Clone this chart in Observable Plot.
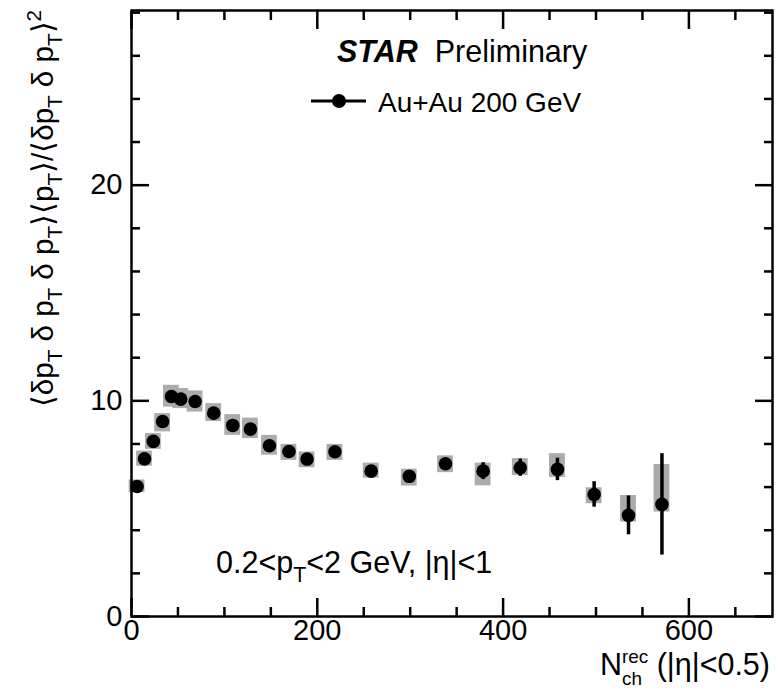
<!DOCTYPE html>
<html><head><meta charset="utf-8">
<script src="https://cdn.jsdelivr.net/npm/d3@7"></script>
<script src="https://cdn.jsdelivr.net/npm/@observablehq/plot@0.6"></script>
<style>
body{margin:0;background:#fff}
svg{font-family:"Liberation Sans",Arial,Helvetica,sans-serif}
</style>
</head><body><div id="chart"></div>
<script>
// ---- data ----
const nch     = [6, 14, 23.5, 33.5, 43, 53, 68.5, 88.5, 109, 128, 148.5, 169.5, 189, 219, 258, 299, 338, 378.5, 418.5, 458.5, 498, 535, 571];
const gamma   = [6.03, 7.31, 8.12, 9.04, 10.2, 10.08, 9.97, 9.43, 8.86, 8.69, 7.92, 7.65, 7.30, 7.64, 6.74, 6.50, 7.08, 6.74, 6.90, 6.82, 5.66, 4.69, 5.20];
const statErr = [0.08, 0.08, 0.08, 0.08, 0.08, 0.08, 0.08, 0.09, 0.1, 0.1, 0.12, 0.13, 0.14, 0.15, 0.18, 0.2, 0.25, 0.39, 0.4, 0.52, 0.59, 0.9, 2.35];
const sysLo   = [5.75, 6.97, 7.75, 8.56, 9.71, 9.64, 9.48, 9.04, 8.40, 8.25, 7.48, 7.24, 6.90, 7.24, 6.42, 6.05, 6.67, 6.06, 6.54, 6.45, 5.23, 4.38, 4.84];
const sysHi   = [6.33, 7.67, 8.49, 9.41, 10.72, 10.57, 10.46, 9.87, 9.36, 9.20, 8.40, 7.98, 7.63, 7.98, 7.11, 6.83, 7.45, 7.11, 7.32, 7.55, 5.97, 5.61, 7.05];
const xMajor = [0, 200, 400, 600];
const xMinor = [50, 100, 150, 250, 300, 350, 450, 500, 550, 650];
const yMajor = [0, 10, 20];
const yMinor = [2, 4, 6, 8, 12, 14, 16, 18, 22, 24, 26, 28];

const data = nch.map((x, i) => ({x, y: gamma[i], stat: statErr[i], lo: sysLo[i], hi: sysHi[i]}));
const boxHalf = 8.5;

const tickOpts = {tickFormat: () => "", label: null, strokeWidth: 2.5};
const plot = Plot.plot({
  width: 778, height: 690,
  marginLeft: 131, marginRight: 6, marginTop: 10, marginBottom: 74,
  x: {domain: [0, 690]},
  y: {domain: [0, 28.1]},
  style: {fontFamily: '"Liberation Sans",Arial,sans-serif', color: "black", background: "white"},
  marks: [
    Plot.rect(data, {x1: d => d.x - boxHalf, x2: d => d.x + boxHalf, y1: "lo", y2: "hi", fill: "#ababab"}),
    Plot.ruleX(data, {x: "x", y1: d => d.y - d.stat, y2: d => d.y + d.stat, stroke: "black", strokeWidth: 3.5}),
    Plot.dot(data, {x: "x", y: "y", r: 6.8, fill: "black", stroke: "none"}),
    Plot.frame({stroke: "black", strokeWidth: 2.5}),
    Plot.axisX({anchor: "bottom", ticks: xMajor, tickSize: -18, ...tickOpts}),
    Plot.axisX({anchor: "bottom", ticks: xMinor, tickSize: -9, ...tickOpts}),
    Plot.axisX({anchor: "top", ticks: xMajor, tickSize: -18, ...tickOpts}),
    Plot.axisX({anchor: "top", ticks: xMinor, tickSize: -9, ...tickOpts}),
    Plot.axisY({anchor: "left", ticks: yMajor, tickSize: -18, ...tickOpts}),
    Plot.axisY({anchor: "left", ticks: yMinor, tickSize: -9, ...tickOpts}),
    Plot.axisY({anchor: "right", ticks: yMajor, tickSize: -18, ...tickOpts}),
    Plot.axisY({anchor: "right", ticks: yMinor, tickSize: -9, ...tickOpts}),
    Plot.axisX({anchor: "bottom", ticks: xMajor, tickSize: 0, tickPadding: 3, fontSize: 29, label: null}),
    Plot.axisY({anchor: "left", ticks: yMajor, tickSize: 0, tickPadding: 9, fontSize: 29, label: null})
  ]
});
document.getElementById("chart").appendChild(plot);

// ---- rich text (sub/superscripts) ----
const svg = d3.select(plot);
function rich(x, y, parts, {anchor = "start", size = 28, transform = null, subShift = 0.3, supShift = 0.42, small = 0.7} = {}) {
  const t = svg.append("text").attr("x", x).attr("y", y)
    .attr("text-anchor", anchor).attr("font-size", size).attr("fill", "black");
  if (transform) t.attr("transform", transform).attr("x", 0).attr("y", 0);
  let shift = 0;
  for (const p of parts) {
    const [str, kind, extra] = p;
    const ts = t.append("tspan").text(str);
    let target = 0, fs = size, weight = null, style = null;
    if (kind === "sub") { target = size * subShift; fs = size * small; }
    if (kind === "sup") { target = -size * supShift; fs = size * small; }
    if (kind === "bi") { weight = "bold"; style = "italic"; }
    ts.attr("dy", target - shift).attr("font-size", fs);
    if (extra) ts.attr("dx", extra);
    if (weight) ts.attr("font-weight", weight);
    if (style) ts.attr("font-style", style);
    shift = target;
  }
  return t;
}

// STAR Preliminary
rich(337, 62, [["STAR", "bi"], ["  Preliminary"]], {size: 30.5});
// legend
svg.append("line").attr("x1", 311).attr("x2", 366).attr("y1", 101).attr("y2", 101)
  .attr("stroke", "black").attr("stroke-width", 3);
svg.append("circle").attr("cx", 339).attr("cy", 101).attr("r", 7).attr("fill", "black");
rich(378, 112, [["Au+Au 200 GeV"]], {size: 28});
// kinematic annotation
rich(216, 573, [["0.2<p"], ["T", "sub"], ["<2 GeV, |η|<1"]], {size: 30.5});
// x title: "rec" stacked above "ch"
rich(770, 675, [["N"], ["ch", "sub"], ["rec", "sup", -20], [" (|η|<0.5)"]],
  {anchor: "end", size: 30.5, subShift: 0.33, supShift: 0.39, small: 0.62});
// y title
rich(0, 0, [["⟨δp"], ["T", "sub"], [" δ p"], ["T", "sub"], [" δ p"], ["T", "sub"], ["⟩⟨p"], ["T", "sub"], ["⟩/⟨δp"], ["T", "sub"], [" δ p"], ["T", "sub"], ["⟩"], ["2", "sup"]],
  {anchor: "end", size: 29.5, transform: "translate(53,10) rotate(-90)"});
</script>
</body></html>
